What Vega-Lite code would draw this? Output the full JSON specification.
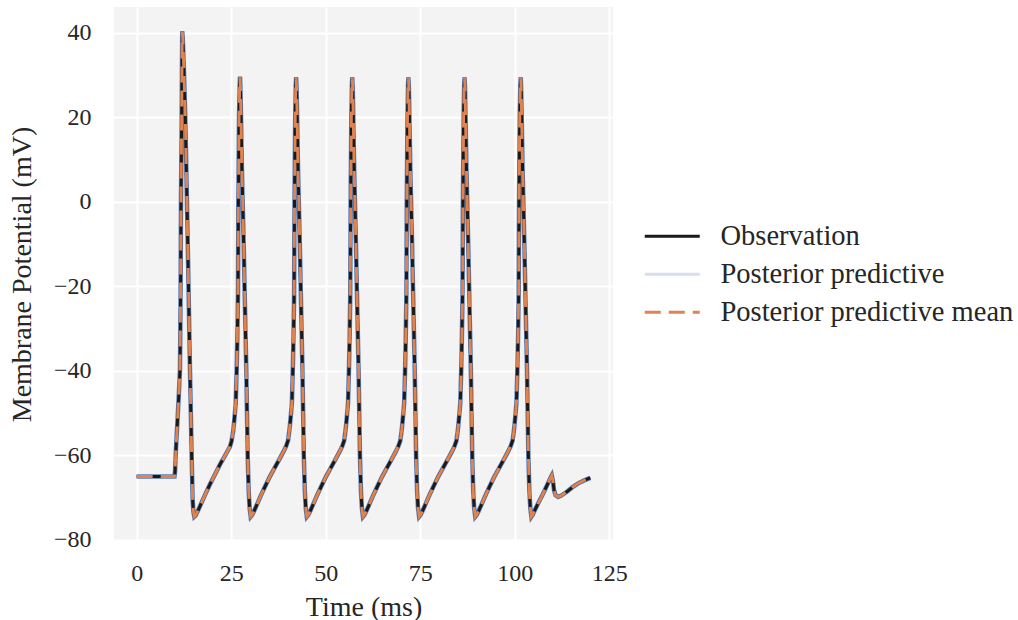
{
  "$schema": "https://vega.github.io/schema/vega-lite/v6.json",
  "width": 499,
  "height": 534,
  "autosize": {"type": "none"},
  "padding": {"left": 114, "top": 7, "right": 405, "bottom": 79},
  "background": "white",
  "config": {
    "view": {"fill": "#f3f3f3", "stroke": null},
    "font": "Liberation Serif",
    "axis": {
      "domain": false, "ticks": false, "grid": true, "gridColor": "white", "gridWidth": 2,
      "labelFont": "Liberation Serif", "labelFontSize": 24, "labelColor": "#262626",
      "titleFont": "Liberation Serif", "titleFontSize": 28, "titleFontWeight": "normal", "titleColor": "#262626"
    },
    "legend": {
      "labelFont": "Liberation Serif", "labelFontSize": 28.5, "labelColor": "#262626", "labelLimit": 500
    }
  },
  "data": {"values": [
    {"t": 0, "v": -65}, {"t": 5, "v": -65}, {"t": 10.0, "v": -65},
    {"t": 10.15, "v": -63.8}, {"t": 10.3, "v": -60.3}, {"t": 10.5, "v": -56.5}, {"t": 10.74, "v": -52.6},
    {"t": 11.1, "v": -46.5}, {"t": 11.45, "v": -39.8}, {"t": 11.55, "v": -30}, {"t": 11.64, "v": -16.9},
    {"t": 11.72, "v": 0}, {"t": 11.9, "v": 19.9}, {"t": 11.98, "v": 32}, {"t": 12.06, "v": 40.4},
    {"t": 12.2, "v": 38.5}, {"t": 12.5, "v": 31}, {"t": 12.86, "v": 20}, {"t": 13.3, "v": 0},
    {"t": 13.65, "v": -16.9}, {"t": 14.1, "v": -39.8}, {"t": 14.55, "v": -60.3}, {"t": 14.8, "v": -70.4},
    {"t": 15.0, "v": -73.3}, {"t": 15.24, "v": -74.5}, {"t": 15.6, "v": -74.2}, {"t": 16.2, "v": -73.1},
    {"t": 17.0, "v": -71.5}, {"t": 18.2, "v": -69.1}, {"t": 19.4, "v": -66.8}, {"t": 20.7, "v": -64.5},
    {"t": 22.0, "v": -62.2}, {"t": 23.4, "v": -60}, {"t": 24.68, "v": -57.9}, {"t": 25.1, "v": -56.6},

    {"t": 25.56, "v": -54}, {"t": 25.88, "v": -51}, {"t": 26.2, "v": -47.7}, {"t": 26.45, "v": -39.8},
    {"t": 26.63, "v": -32}, {"t": 26.8, "v": -21.6}, {"t": 26.9, "v": 0}, {"t": 27.08, "v": 20},
    {"t": 27.23, "v": 27.5}, {"t": 27.33, "v": 29.6}, {"t": 27.45, "v": 27}, {"t": 27.6, "v": 20},
    {"t": 27.83, "v": 8}, {"t": 28.04, "v": 0}, {"t": 28.33, "v": -11}, {"t": 28.57, "v": -21.6},
    {"t": 29.0, "v": -39.8}, {"t": 29.18, "v": -50}, {"t": 29.37, "v": -60.3}, {"t": 29.63, "v": -68.5},
    {"t": 29.88, "v": -72.5}, {"t": 30.16, "v": -74.5}, {"t": 30.53, "v": -74.1}, {"t": 31.03, "v": -73.2},
    {"t": 31.83, "v": -71.6}, {"t": 32.83, "v": -69.5}, {"t": 33.83, "v": -67.6}, {"t": 35.23, "v": -65},
    {"t": 36.33, "v": -63.2}, {"t": 37.63, "v": -61.1}, {"t": 38.83, "v": -59.1}, {"t": 39.53, "v": -57.8},
    {"t": 40.03, "v": -56.5},

    {"t": 40.41, "v": -54}, {"t": 40.73, "v": -51}, {"t": 41.05, "v": -47.7}, {"t": 41.3, "v": -39.8},
    {"t": 41.48, "v": -32}, {"t": 41.65, "v": -21.6}, {"t": 41.75, "v": 0}, {"t": 41.93, "v": 20},
    {"t": 42.08, "v": 27.5}, {"t": 42.18, "v": 29.5}, {"t": 42.3, "v": 27}, {"t": 42.45, "v": 20},
    {"t": 42.68, "v": 8}, {"t": 42.89, "v": 0}, {"t": 43.18, "v": -11}, {"t": 43.42, "v": -21.6},
    {"t": 43.85, "v": -39.8}, {"t": 44.03, "v": -50}, {"t": 44.22, "v": -60.3}, {"t": 44.48, "v": -68.5},
    {"t": 44.73, "v": -72.5}, {"t": 45.01, "v": -74.5}, {"t": 45.38, "v": -74.1}, {"t": 45.88, "v": -73.2},
    {"t": 46.68, "v": -71.6}, {"t": 47.68, "v": -69.5}, {"t": 48.68, "v": -67.6}, {"t": 50.08, "v": -65},
    {"t": 51.18, "v": -63.2}, {"t": 52.48, "v": -61.1}, {"t": 53.68, "v": -59.1}, {"t": 54.38, "v": -57.8},
    {"t": 54.88, "v": -56.5},

    {"t": 55.26, "v": -54}, {"t": 55.58, "v": -51}, {"t": 55.9, "v": -47.7}, {"t": 56.15, "v": -39.8},
    {"t": 56.33, "v": -32}, {"t": 56.5, "v": -21.6}, {"t": 56.6, "v": 0}, {"t": 56.78, "v": 20},
    {"t": 56.93, "v": 27.5}, {"t": 57.03, "v": 29.5}, {"t": 57.15, "v": 27}, {"t": 57.3, "v": 20},
    {"t": 57.53, "v": 8}, {"t": 57.74, "v": 0}, {"t": 58.03, "v": -11}, {"t": 58.27, "v": -21.6},
    {"t": 58.7, "v": -39.8}, {"t": 58.88, "v": -50}, {"t": 59.07, "v": -60.3}, {"t": 59.33, "v": -68.5},
    {"t": 59.58, "v": -72.5}, {"t": 59.86, "v": -74.5}, {"t": 60.23, "v": -74.1}, {"t": 60.73, "v": -73.2},
    {"t": 61.53, "v": -71.6}, {"t": 62.53, "v": -69.5}, {"t": 63.53, "v": -67.6}, {"t": 64.93, "v": -65},
    {"t": 66.03, "v": -63.2}, {"t": 67.33, "v": -61.1}, {"t": 68.53, "v": -59.1}, {"t": 69.23, "v": -57.8},
    {"t": 69.73, "v": -56.5},

    {"t": 70.11, "v": -54}, {"t": 70.43, "v": -51}, {"t": 70.75, "v": -47.7}, {"t": 71.0, "v": -39.8},
    {"t": 71.18, "v": -32}, {"t": 71.35, "v": -21.6}, {"t": 71.45, "v": 0}, {"t": 71.63, "v": 20},
    {"t": 71.78, "v": 27.5}, {"t": 71.88, "v": 29.5}, {"t": 72.0, "v": 27}, {"t": 72.15, "v": 20},
    {"t": 72.38, "v": 8}, {"t": 72.59, "v": 0}, {"t": 72.88, "v": -11}, {"t": 73.12, "v": -21.6},
    {"t": 73.55, "v": -39.8}, {"t": 73.73, "v": -50}, {"t": 73.92, "v": -60.3}, {"t": 74.18, "v": -68.5},
    {"t": 74.43, "v": -72.5}, {"t": 74.71, "v": -74.5}, {"t": 75.08, "v": -74.1}, {"t": 75.58, "v": -73.2},
    {"t": 76.38, "v": -71.6}, {"t": 77.38, "v": -69.5}, {"t": 78.38, "v": -67.6}, {"t": 79.78, "v": -65},
    {"t": 80.88, "v": -63.2}, {"t": 82.18, "v": -61.1}, {"t": 83.38, "v": -59.1}, {"t": 84.08, "v": -57.8},
    {"t": 84.58, "v": -56.5},

    {"t": 84.96, "v": -54}, {"t": 85.28, "v": -51}, {"t": 85.6, "v": -47.7}, {"t": 85.85, "v": -39.8},
    {"t": 86.03, "v": -32}, {"t": 86.2, "v": -21.6}, {"t": 86.3, "v": 0}, {"t": 86.48, "v": 20},
    {"t": 86.63, "v": 27.5}, {"t": 86.73, "v": 29.5}, {"t": 86.85, "v": 27}, {"t": 87.0, "v": 20},
    {"t": 87.23, "v": 8}, {"t": 87.44, "v": 0}, {"t": 87.73, "v": -11}, {"t": 87.97, "v": -21.6},
    {"t": 88.4, "v": -39.8}, {"t": 88.58, "v": -50}, {"t": 88.77, "v": -60.3}, {"t": 89.03, "v": -68.5},
    {"t": 89.28, "v": -72.5}, {"t": 89.56, "v": -74.5}, {"t": 89.93, "v": -74.1}, {"t": 90.43, "v": -73.2},
    {"t": 91.23, "v": -71.6}, {"t": 92.23, "v": -69.5}, {"t": 93.23, "v": -67.6}, {"t": 94.63, "v": -65},
    {"t": 95.73, "v": -63.2}, {"t": 97.03, "v": -61.1}, {"t": 98.23, "v": -59.1}, {"t": 98.93, "v": -57.8},
    {"t": 99.43, "v": -56.5},

    {"t": 99.81, "v": -54}, {"t": 100.13, "v": -51}, {"t": 100.45, "v": -47.7}, {"t": 100.7, "v": -39.8},
    {"t": 100.88, "v": -32}, {"t": 101.05, "v": -21.6}, {"t": 101.15, "v": 0}, {"t": 101.33, "v": 20},
    {"t": 101.48, "v": 27.5}, {"t": 101.58, "v": 29.5}, {"t": 101.7, "v": 27}, {"t": 101.85, "v": 20},
    {"t": 102.08, "v": 8}, {"t": 102.29, "v": 0}, {"t": 102.58, "v": -11}, {"t": 102.82, "v": -21.6},
    {"t": 103.25, "v": -39.8}, {"t": 103.43, "v": -50}, {"t": 103.62, "v": -60.3}, {"t": 103.88, "v": -68.5},
    {"t": 104.13, "v": -72.5}, {"t": 104.41, "v": -74.5}, {"t": 104.78, "v": -74}, {"t": 105.3, "v": -73},
    {"t": 106.2, "v": -71.3}, {"t": 107.1, "v": -69.8}, {"t": 108.0, "v": -68.1}, {"t": 108.9, "v": -66.4},
    {"t": 109.5, "v": -65.2}, {"t": 109.8, "v": -64.7}, {"t": 110.1, "v": -66}, {"t": 110.4, "v": -68.2},
    {"t": 110.8, "v": -69.4}, {"t": 111.5, "v": -69.8}, {"t": 112.3, "v": -69.5}, {"t": 113.8, "v": -68.6},
    {"t": 115.3, "v": -67.5}, {"t": 116.8, "v": -66.6}, {"t": 118.4, "v": -65.9}, {"t": 120.0, "v": -65.3}
  ]},
  "encoding": {
    "x": {"field": "t", "type": "quantitative",
      "scale": {"domain": [-6, 126], "nice": false, "zero": false},
      "axis": {"values": [0, 25, 50, 75, 100, 125], "title": "Time (ms)", "labelPadding": 20, "titlePadding": 8}},
    "y": {"field": "v", "type": "quantitative",
      "scale": {"domain": [-80.25, 46.15], "nice": false, "zero": false},
      "axis": {"values": [-80, -60, -40, -20, 0, 20, 40], "title": "Membrane Potential (mV)", "labelPadding": 23, "titlePadding": 17}}
  },
  "layer": [
    {
      "mark": {"type": "line", "strokeWidth": 4.5, "clip": true},
      "encoding": {
        "color": {"datum": "Posterior predictive", "type": "nominal",
          "scale": {"domain": ["Observation", "Posterior predictive", "Posterior predictive mean"], "range": ["#1a1a1a", "#d7deed", "#dd8452"]},
          "legend": {"title": null, "orient": "none", "legendX": 544, "legendY": 215,
            "symbolType": "M-2.75,0H2.75", "symbolSize": 400, "symbolStrokeWidth": 3,
            "labelOffset": 34, "rowPadding": 9, "padding": 0, "labelFontSize": 28.5, "labelLimit": 500}},
        "strokeDash": {"datum": "Posterior predictive", "type": "nominal",
          "scale": {"domain": ["Observation", "Posterior predictive", "Posterior predictive mean"], "range": [[1, 0], [1, 0], [16, 8]]},
          "legend": {"title": null, "orient": "none", "legendX": 544, "legendY": 215,
            "symbolType": "M-2.75,0H2.75", "symbolSize": 400, "symbolStrokeWidth": 3,
            "labelOffset": 34, "rowPadding": 9, "padding": 0, "labelFontSize": 28.5, "labelLimit": 500}}
      }
    },
    {
      "mark": {"type": "line", "strokeWidth": 4.5, "color": "#4c72b0", "opacity": 0.85, "clip": true},
      "encoding": {}
    },
    {
      "mark": {"type": "line", "strokeWidth": 3, "clip": true},
      "encoding": {
        "color": {"datum": "Observation", "type": "nominal"},
        "strokeDash": {"datum": "Observation", "type": "nominal"}
      }
    },
    {
      "mark": {"type": "line", "strokeWidth": 3, "clip": true},
      "encoding": {
        "color": {"datum": "Posterior predictive mean", "type": "nominal"},
        "strokeDash": {"datum": "Posterior predictive mean", "type": "nominal"}
      }
    }
  ]
}
